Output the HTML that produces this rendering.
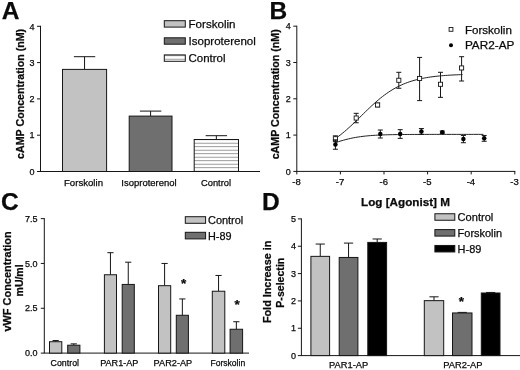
<!DOCTYPE html>
<html lang="en">
<head>
<meta charset="utf-8">
<title>Figure: cAMP, vWF and P-selectin responses</title>
<style>
html,body{margin:0;padding:0;background:#fff;}
svg{display:block;font-family:"Liberation Sans",Arial,Helvetica,sans-serif;filter:grayscale(1) blur(0.35px);}
text{fill:#0a0a0a;stroke:#0a0a0a;stroke-width:0.25px;}
</style>
</head>
<body>
<svg width="520" height="370" viewBox="0 0 520 370">
<defs>
<pattern id="hatch" width="4" height="3.5" patternUnits="userSpaceOnUse" patternTransform="translate(0 2.75)">
<rect width="4" height="3.5" fill="#fff"/>
<line x1="0" y1="0.5" x2="4" y2="0.5" stroke="#747474" stroke-width="0.8"/>
</pattern>
</defs>
<rect width="520" height="370" fill="#fff" stroke="none"/>
<text x="1.80" y="18.70" font-size="24.5" font-weight="bold" text-anchor="start">A</text>
<line x1="40.50" y1="25.80" x2="40.50" y2="171.50" stroke="#161616" stroke-width="1.0"/>
<line x1="40.00" y1="171.50" x2="260.00" y2="171.50" stroke="#161616" stroke-width="1.0"/>
<line x1="37.00" y1="171.50" x2="40.50" y2="171.50" stroke="#161616" stroke-width="1.0"/>
<text x="34.40" y="174.70" font-size="9" font-weight="normal" text-anchor="end">0</text>
<line x1="37.00" y1="135.20" x2="40.50" y2="135.20" stroke="#161616" stroke-width="1.0"/>
<text x="34.40" y="138.40" font-size="9" font-weight="normal" text-anchor="end">1</text>
<line x1="37.00" y1="98.90" x2="40.50" y2="98.90" stroke="#161616" stroke-width="1.0"/>
<text x="34.40" y="102.10" font-size="9" font-weight="normal" text-anchor="end">2</text>
<line x1="37.00" y1="62.60" x2="40.50" y2="62.60" stroke="#161616" stroke-width="1.0"/>
<text x="34.40" y="65.80" font-size="9" font-weight="normal" text-anchor="end">3</text>
<line x1="37.00" y1="26.30" x2="40.50" y2="26.30" stroke="#161616" stroke-width="1.0"/>
<text x="34.40" y="29.50" font-size="9" font-weight="normal" text-anchor="end">4</text>
<text x="23.60" y="93.90" font-size="10.5" font-weight="bold" text-anchor="middle" textLength="130" lengthAdjust="spacingAndGlyphs" transform="rotate(-90 23.60 93.90)">cAMP Concentration (nM)</text>
<line x1="84.55" y1="56.70" x2="84.55" y2="69.40" stroke="#161616" stroke-width="1.0"/>
<line x1="73.85" y1="56.70" x2="95.25" y2="56.70" stroke="#161616" stroke-width="1.0"/>
<rect x="62.50" y="69.40" width="44.10" height="102.10" fill="#c2c2c2" stroke="#161616" stroke-width="1.0"/>
<line x1="150.60" y1="111.10" x2="150.60" y2="116.10" stroke="#161616" stroke-width="1.0"/>
<line x1="139.90" y1="111.10" x2="161.30" y2="111.10" stroke="#161616" stroke-width="1.0"/>
<rect x="129.20" y="116.10" width="42.80" height="55.40" fill="#6f6f6f" stroke="#161616" stroke-width="1.0"/>
<line x1="216.35" y1="135.70" x2="216.35" y2="139.50" stroke="#161616" stroke-width="1.0"/>
<line x1="205.65" y1="135.70" x2="227.05" y2="135.70" stroke="#161616" stroke-width="1.0"/>
<rect x="194.20" y="139.50" width="44.30" height="32.00" fill="url(#hatch)" stroke="#161616" stroke-width="1.0"/>
<text x="83.50" y="185.70" font-size="9.5" font-weight="normal" text-anchor="middle" textLength="39" lengthAdjust="spacingAndGlyphs">Forskolin</text>
<text x="149.00" y="185.70" font-size="9.5" font-weight="normal" text-anchor="middle" textLength="55.3" lengthAdjust="spacingAndGlyphs">Isoproterenol</text>
<text x="216.00" y="185.70" font-size="9.5" font-weight="normal" text-anchor="middle" textLength="30" lengthAdjust="spacingAndGlyphs">Control</text>
<rect x="164.30" y="20.70" width="21.00" height="6.40" fill="#c2c2c2" stroke="#161616" stroke-width="1.0"/>
<text x="188.50" y="28.00" font-size="11.5" font-weight="normal" text-anchor="start" textLength="47" lengthAdjust="spacingAndGlyphs">Forskolin</text>
<rect x="164.30" y="37.80" width="21.00" height="6.40" fill="#6f6f6f" stroke="#161616" stroke-width="1.0"/>
<text x="188.50" y="45.10" font-size="11.5" font-weight="normal" text-anchor="start" textLength="67.3" lengthAdjust="spacingAndGlyphs">Isoproterenol</text>
<rect x="164.30" y="54.90" width="21.00" height="6.40" fill="url(#hatch)" stroke="#161616" stroke-width="1.0"/>
<text x="188.50" y="62.20" font-size="11.5" font-weight="normal" text-anchor="start" textLength="37" lengthAdjust="spacingAndGlyphs">Control</text>
<text x="269.60" y="18.70" font-size="24.5" font-weight="bold" text-anchor="start">B</text>
<line x1="296.80" y1="25.70" x2="296.80" y2="171.40" stroke="#161616" stroke-width="1.0"/>
<line x1="296.30" y1="171.40" x2="515.30" y2="171.40" stroke="#161616" stroke-width="1.0"/>
<line x1="293.30" y1="171.40" x2="296.80" y2="171.40" stroke="#161616" stroke-width="1.0"/>
<text x="290.70" y="174.60" font-size="9" font-weight="normal" text-anchor="end">0</text>
<line x1="293.30" y1="135.10" x2="296.80" y2="135.10" stroke="#161616" stroke-width="1.0"/>
<text x="290.70" y="138.30" font-size="9" font-weight="normal" text-anchor="end">1</text>
<line x1="293.30" y1="98.80" x2="296.80" y2="98.80" stroke="#161616" stroke-width="1.0"/>
<text x="290.70" y="102.00" font-size="9" font-weight="normal" text-anchor="end">2</text>
<line x1="293.30" y1="62.50" x2="296.80" y2="62.50" stroke="#161616" stroke-width="1.0"/>
<text x="290.70" y="65.70" font-size="9" font-weight="normal" text-anchor="end">3</text>
<line x1="293.30" y1="26.20" x2="296.80" y2="26.20" stroke="#161616" stroke-width="1.0"/>
<text x="290.70" y="29.40" font-size="9" font-weight="normal" text-anchor="end">4</text>
<line x1="296.80" y1="171.40" x2="296.80" y2="174.40" stroke="#161616" stroke-width="1.0"/>
<text x="296.50" y="185.10" font-size="9.5" font-weight="normal" text-anchor="middle">-8</text>
<line x1="340.40" y1="171.40" x2="340.40" y2="174.40" stroke="#161616" stroke-width="1.0"/>
<text x="340.10" y="185.10" font-size="9.5" font-weight="normal" text-anchor="middle">-7</text>
<line x1="384.00" y1="171.40" x2="384.00" y2="174.40" stroke="#161616" stroke-width="1.0"/>
<text x="383.70" y="185.10" font-size="9.5" font-weight="normal" text-anchor="middle">-6</text>
<line x1="427.60" y1="171.40" x2="427.60" y2="174.40" stroke="#161616" stroke-width="1.0"/>
<text x="427.30" y="185.10" font-size="9.5" font-weight="normal" text-anchor="middle">-5</text>
<line x1="471.20" y1="171.40" x2="471.20" y2="174.40" stroke="#161616" stroke-width="1.0"/>
<text x="470.90" y="185.10" font-size="9.5" font-weight="normal" text-anchor="middle">-4</text>
<line x1="514.80" y1="171.40" x2="514.80" y2="174.40" stroke="#161616" stroke-width="1.0"/>
<text x="514.50" y="185.10" font-size="9.5" font-weight="normal" text-anchor="middle">-3</text>
<text x="278.80" y="94.30" font-size="10.5" font-weight="bold" text-anchor="middle" textLength="130" lengthAdjust="spacingAndGlyphs" transform="rotate(-90 278.80 94.30)">cAMP Concentration (nM)</text>
<polyline points="336.04,138.12 338.15,136.60 340.25,135.00 342.36,133.32 344.47,131.57 346.58,129.76 348.68,127.89 350.79,125.96 352.90,123.99 355.01,121.98 357.11,119.94 359.22,117.88 361.33,115.81 363.44,113.74 365.54,111.67 367.65,109.63 369.76,107.62 371.86,105.65 373.97,103.72 376.08,101.85 378.19,100.04 380.29,98.29 382.40,96.62 384.51,95.02 386.62,93.49 388.72,92.04 390.83,90.68 392.94,89.39 395.05,88.18 397.15,87.04 399.26,85.98 401.37,84.99 403.47,84.07 405.58,83.22 407.69,82.43 409.80,81.70 411.90,81.02 414.01,80.40 416.12,79.83 418.23,79.30 420.33,78.82 422.44,78.38 424.55,77.98 426.66,77.61 428.76,77.27 430.87,76.96 432.98,76.68 435.08,76.42 437.19,76.19 439.30,75.97 441.41,75.78 443.51,75.60 445.62,75.44 447.73,75.30 449.84,75.16 451.94,75.04 454.05,74.93 456.16,74.83 458.27,74.74 460.37,74.66 462.48,74.59" fill="none" stroke="#161616" stroke-width="0.95"/>
<polyline points="336.04,142.41 338.50,141.64 340.95,140.91 343.41,140.21 345.86,139.55 348.32,138.94 350.78,138.38 353.23,137.87 355.69,137.42 358.15,137.01 360.60,136.65 363.06,136.34 365.51,136.06 367.97,135.82 370.43,135.61 372.88,135.43 375.34,135.27 377.79,135.14 380.25,135.02 382.71,134.93 385.16,134.84 387.62,134.77 390.07,134.71 392.53,134.66 394.99,134.62 397.44,134.58 399.90,134.55 402.36,134.52 404.81,134.50 407.27,134.48 409.72,134.46 412.18,134.45 414.64,134.44 417.09,134.43 419.55,134.42 422.00,134.41 424.46,134.41 426.92,134.40 429.37,134.40 431.83,134.39 434.29,134.39 436.74,134.39 439.20,134.39 441.65,134.38 444.11,134.38 446.57,134.38 449.02,134.38 451.48,134.38 453.93,134.38 456.39,134.38 458.85,134.38 461.30,134.38 463.76,134.38 466.22,134.38 468.67,134.38 471.13,134.38 473.58,134.38 476.04,134.37 478.50,134.37 480.95,134.37 483.41,134.37" fill="none" stroke="#161616" stroke-width="0.95"/>
<line x1="335.40" y1="135.83" x2="335.40" y2="141.63" stroke="#161616" stroke-width="1.0"/>
<line x1="332.90" y1="135.83" x2="337.90" y2="135.83" stroke="#161616" stroke-width="1.0"/>
<line x1="332.90" y1="141.63" x2="337.90" y2="141.63" stroke="#161616" stroke-width="1.0"/>
<rect x="333.35" y="136.68" width="4.10" height="4.10" fill="#fff" stroke="#161616" stroke-width="0.9"/>
<line x1="356.20" y1="113.32" x2="356.20" y2="122.76" stroke="#161616" stroke-width="1.0"/>
<line x1="353.70" y1="113.32" x2="358.70" y2="113.32" stroke="#161616" stroke-width="1.0"/>
<line x1="353.70" y1="122.76" x2="358.70" y2="122.76" stroke="#161616" stroke-width="1.0"/>
<rect x="354.15" y="115.99" width="4.10" height="4.10" fill="#fff" stroke="#161616" stroke-width="0.9"/>
<line x1="377.60" y1="103.16" x2="377.60" y2="106.79" stroke="#161616" stroke-width="1.0"/>
<line x1="375.10" y1="103.16" x2="380.10" y2="103.16" stroke="#161616" stroke-width="1.0"/>
<line x1="375.10" y1="106.79" x2="380.10" y2="106.79" stroke="#161616" stroke-width="1.0"/>
<rect x="375.55" y="102.92" width="4.10" height="4.10" fill="#fff" stroke="#161616" stroke-width="0.9"/>
<line x1="398.80" y1="72.30" x2="398.80" y2="88.27" stroke="#161616" stroke-width="1.0"/>
<line x1="396.30" y1="72.30" x2="401.30" y2="72.30" stroke="#161616" stroke-width="1.0"/>
<line x1="396.30" y1="88.27" x2="401.30" y2="88.27" stroke="#161616" stroke-width="1.0"/>
<rect x="396.75" y="78.24" width="4.10" height="4.10" fill="#fff" stroke="#161616" stroke-width="0.9"/>
<line x1="419.60" y1="57.42" x2="419.60" y2="100.62" stroke="#161616" stroke-width="1.0"/>
<line x1="417.10" y1="57.42" x2="422.10" y2="57.42" stroke="#161616" stroke-width="1.0"/>
<line x1="417.10" y1="100.62" x2="422.10" y2="100.62" stroke="#161616" stroke-width="1.0"/>
<rect x="417.55" y="76.42" width="4.10" height="4.10" fill="#fff" stroke="#161616" stroke-width="0.9"/>
<line x1="440.50" y1="72.30" x2="440.50" y2="97.35" stroke="#161616" stroke-width="1.0"/>
<line x1="438.00" y1="72.30" x2="443.00" y2="72.30" stroke="#161616" stroke-width="1.0"/>
<line x1="438.00" y1="97.35" x2="443.00" y2="97.35" stroke="#161616" stroke-width="1.0"/>
<rect x="438.45" y="82.23" width="4.10" height="4.10" fill="#fff" stroke="#161616" stroke-width="0.9"/>
<line x1="461.60" y1="56.69" x2="461.60" y2="81.01" stroke="#161616" stroke-width="1.0"/>
<line x1="459.10" y1="56.69" x2="464.10" y2="56.69" stroke="#161616" stroke-width="1.0"/>
<line x1="459.10" y1="81.01" x2="464.10" y2="81.01" stroke="#161616" stroke-width="1.0"/>
<rect x="459.55" y="65.90" width="4.10" height="4.10" fill="#fff" stroke="#161616" stroke-width="0.9"/>
<line x1="335.40" y1="139.82" x2="335.40" y2="149.26" stroke="#161616" stroke-width="1.0"/>
<line x1="332.90" y1="139.82" x2="337.90" y2="139.82" stroke="#161616" stroke-width="1.0"/>
<line x1="332.90" y1="149.26" x2="337.90" y2="149.26" stroke="#161616" stroke-width="1.0"/>
<circle cx="335.40" cy="144.54" r="2.25" fill="#000"/>
<line x1="380.30" y1="130.02" x2="380.30" y2="138.00" stroke="#161616" stroke-width="1.0"/>
<line x1="377.80" y1="130.02" x2="382.80" y2="130.02" stroke="#161616" stroke-width="1.0"/>
<line x1="377.80" y1="138.00" x2="382.80" y2="138.00" stroke="#161616" stroke-width="1.0"/>
<circle cx="380.30" cy="134.01" r="2.25" fill="#000"/>
<line x1="400.20" y1="129.66" x2="400.20" y2="138.37" stroke="#161616" stroke-width="1.0"/>
<line x1="397.70" y1="129.66" x2="402.70" y2="129.66" stroke="#161616" stroke-width="1.0"/>
<line x1="397.70" y1="138.37" x2="402.70" y2="138.37" stroke="#161616" stroke-width="1.0"/>
<circle cx="400.20" cy="134.01" r="2.25" fill="#000"/>
<line x1="421.40" y1="128.57" x2="421.40" y2="134.37" stroke="#161616" stroke-width="1.0"/>
<line x1="418.90" y1="128.57" x2="423.90" y2="128.57" stroke="#161616" stroke-width="1.0"/>
<line x1="418.90" y1="134.37" x2="423.90" y2="134.37" stroke="#161616" stroke-width="1.0"/>
<circle cx="421.40" cy="131.47" r="2.25" fill="#000"/>
<line x1="442.30" y1="131.11" x2="442.30" y2="133.28" stroke="#161616" stroke-width="1.0"/>
<line x1="439.80" y1="131.11" x2="444.80" y2="131.11" stroke="#161616" stroke-width="1.0"/>
<line x1="439.80" y1="133.28" x2="444.80" y2="133.28" stroke="#161616" stroke-width="1.0"/>
<circle cx="442.30" cy="132.20" r="2.25" fill="#000"/>
<line x1="463.40" y1="135.46" x2="463.40" y2="142.72" stroke="#161616" stroke-width="1.0"/>
<line x1="460.90" y1="135.46" x2="465.90" y2="135.46" stroke="#161616" stroke-width="1.0"/>
<line x1="460.90" y1="142.72" x2="465.90" y2="142.72" stroke="#161616" stroke-width="1.0"/>
<circle cx="463.40" cy="139.09" r="2.25" fill="#000"/>
<line x1="484.20" y1="135.46" x2="484.20" y2="141.27" stroke="#161616" stroke-width="1.0"/>
<line x1="481.70" y1="135.46" x2="486.70" y2="135.46" stroke="#161616" stroke-width="1.0"/>
<line x1="481.70" y1="141.27" x2="486.70" y2="141.27" stroke="#161616" stroke-width="1.0"/>
<circle cx="484.20" cy="138.37" r="2.25" fill="#000"/>
<rect x="449.10" y="27.50" width="3.80" height="3.80" fill="#fff" stroke="#161616" stroke-width="0.9"/>
<circle cx="451" cy="45.2" r="2.0" fill="#000"/>
<text x="464.90" y="33.50" font-size="11.5" font-weight="normal" text-anchor="start" textLength="47" lengthAdjust="spacingAndGlyphs">Forskolin</text>
<text x="464.90" y="49.00" font-size="11.5" font-weight="normal" text-anchor="start" textLength="49.5" lengthAdjust="spacingAndGlyphs">PAR2-AP</text>
<text x="405.50" y="206.10" font-size="11.5" font-weight="bold" text-anchor="middle" textLength="89" lengthAdjust="spacingAndGlyphs">Log [Agonist] M</text>
<text x="1.00" y="210.30" font-size="24.5" font-weight="bold" text-anchor="start">C</text>
<line x1="44.30" y1="218.13" x2="44.30" y2="353.10" stroke="#161616" stroke-width="1.0"/>
<line x1="43.80" y1="353.10" x2="249.00" y2="353.10" stroke="#161616" stroke-width="1.0"/>
<line x1="40.80" y1="353.10" x2="44.30" y2="353.10" stroke="#161616" stroke-width="1.0"/>
<text x="37.50" y="356.30" font-size="9" font-weight="normal" text-anchor="end">0.0</text>
<line x1="40.80" y1="308.28" x2="44.30" y2="308.28" stroke="#161616" stroke-width="1.0"/>
<text x="37.50" y="311.48" font-size="9" font-weight="normal" text-anchor="end">2.5</text>
<line x1="40.80" y1="263.45" x2="44.30" y2="263.45" stroke="#161616" stroke-width="1.0"/>
<text x="37.50" y="266.65" font-size="9" font-weight="normal" text-anchor="end">5.0</text>
<line x1="40.80" y1="218.63" x2="44.30" y2="218.63" stroke="#161616" stroke-width="1.0"/>
<text x="37.50" y="221.83" font-size="9" font-weight="normal" text-anchor="end">7.5</text>
<text x="11.10" y="281.40" font-size="11" font-weight="bold" text-anchor="middle" textLength="100.3" lengthAdjust="spacingAndGlyphs" transform="rotate(-90 11.10 281.40)">vWF Concentration</text>
<text x="22.90" y="280.40" font-size="10.5" font-weight="bold" text-anchor="middle" textLength="32" lengthAdjust="spacingAndGlyphs" transform="rotate(-90 22.90 280.40)">mU/ml</text>
<line x1="55.65" y1="340.55" x2="55.65" y2="341.71" stroke="#161616" stroke-width="1.0"/>
<line x1="52.55" y1="340.55" x2="58.75" y2="340.55" stroke="#161616" stroke-width="1.0"/>
<rect x="49.50" y="341.71" width="12.30" height="11.39" fill="#c2c2c2" stroke="#161616" stroke-width="1.0"/>
<line x1="73.80" y1="343.87" x2="73.80" y2="345.21" stroke="#161616" stroke-width="1.0"/>
<line x1="70.70" y1="343.87" x2="76.90" y2="343.87" stroke="#161616" stroke-width="1.0"/>
<rect x="67.70" y="345.21" width="12.20" height="7.89" fill="#6f6f6f" stroke="#161616" stroke-width="1.0"/>
<line x1="110.45" y1="252.69" x2="110.45" y2="274.75" stroke="#161616" stroke-width="1.0"/>
<line x1="107.35" y1="252.69" x2="113.55" y2="252.69" stroke="#161616" stroke-width="1.0"/>
<rect x="104.40" y="274.75" width="12.10" height="78.35" fill="#c2c2c2" stroke="#161616" stroke-width="1.0"/>
<line x1="128.25" y1="262.19" x2="128.25" y2="284.43" stroke="#161616" stroke-width="1.0"/>
<line x1="125.15" y1="262.19" x2="131.35" y2="262.19" stroke="#161616" stroke-width="1.0"/>
<rect x="122.20" y="284.43" width="12.10" height="68.67" fill="#6f6f6f" stroke="#161616" stroke-width="1.0"/>
<line x1="164.60" y1="263.45" x2="164.60" y2="285.68" stroke="#161616" stroke-width="1.0"/>
<line x1="161.50" y1="263.45" x2="167.70" y2="263.45" stroke="#161616" stroke-width="1.0"/>
<rect x="158.50" y="285.68" width="12.20" height="67.42" fill="#c2c2c2" stroke="#161616" stroke-width="1.0"/>
<line x1="182.35" y1="298.95" x2="182.35" y2="315.27" stroke="#161616" stroke-width="1.0"/>
<line x1="179.25" y1="298.95" x2="185.45" y2="298.95" stroke="#161616" stroke-width="1.0"/>
<rect x="176.30" y="315.27" width="12.10" height="37.83" fill="#6f6f6f" stroke="#161616" stroke-width="1.0"/>
<line x1="218.55" y1="275.46" x2="218.55" y2="291.24" stroke="#161616" stroke-width="1.0"/>
<line x1="215.45" y1="275.46" x2="221.65" y2="275.46" stroke="#161616" stroke-width="1.0"/>
<rect x="212.30" y="291.24" width="12.50" height="61.86" fill="#c2c2c2" stroke="#161616" stroke-width="1.0"/>
<line x1="236.35" y1="321.72" x2="236.35" y2="329.25" stroke="#161616" stroke-width="1.0"/>
<line x1="233.25" y1="321.72" x2="239.45" y2="321.72" stroke="#161616" stroke-width="1.0"/>
<rect x="230.10" y="329.25" width="12.50" height="23.85" fill="#6f6f6f" stroke="#161616" stroke-width="1.0"/>
<text x="64.80" y="366.00" font-size="9" font-weight="normal" text-anchor="middle" textLength="28.4" lengthAdjust="spacingAndGlyphs">Control</text>
<text x="119.30" y="366.00" font-size="9" font-weight="normal" text-anchor="middle" textLength="38.3" lengthAdjust="spacingAndGlyphs">PAR1-AP</text>
<text x="172.90" y="366.00" font-size="9" font-weight="normal" text-anchor="middle" textLength="38.6" lengthAdjust="spacingAndGlyphs">PAR2-AP</text>
<text x="227.80" y="366.00" font-size="9" font-weight="normal" text-anchor="middle" textLength="34.8" lengthAdjust="spacingAndGlyphs">Forskolin</text>
<text x="183.60" y="287.80" font-size="13.5" font-weight="bold" text-anchor="middle">*</text>
<text x="237.20" y="309.40" font-size="13.5" font-weight="bold" text-anchor="middle">*</text>
<rect x="185.30" y="216.70" width="20.30" height="6.60" fill="#c2c2c2" stroke="#161616" stroke-width="1.0"/>
<text x="208.00" y="223.90" font-size="11" font-weight="normal" text-anchor="start" textLength="35.3" lengthAdjust="spacingAndGlyphs">Control</text>
<rect x="185.30" y="232.30" width="20.30" height="6.60" fill="#6f6f6f" stroke="#161616" stroke-width="1.0"/>
<text x="208.00" y="239.50" font-size="11" font-weight="normal" text-anchor="start" textLength="23.5" lengthAdjust="spacingAndGlyphs">H-89</text>
<text x="262.00" y="210.30" font-size="24.5" font-weight="bold" text-anchor="start">D</text>
<line x1="301.40" y1="218.40" x2="301.40" y2="355.60" stroke="#161616" stroke-width="1.0"/>
<line x1="300.90" y1="355.60" x2="520.00" y2="355.60" stroke="#161616" stroke-width="1.0"/>
<line x1="297.90" y1="355.60" x2="301.40" y2="355.60" stroke="#161616" stroke-width="1.0"/>
<text x="296.00" y="358.80" font-size="9" font-weight="normal" text-anchor="end">0</text>
<line x1="297.90" y1="328.26" x2="301.40" y2="328.26" stroke="#161616" stroke-width="1.0"/>
<text x="296.00" y="331.46" font-size="9" font-weight="normal" text-anchor="end">1</text>
<line x1="297.90" y1="300.92" x2="301.40" y2="300.92" stroke="#161616" stroke-width="1.0"/>
<text x="296.00" y="304.12" font-size="9" font-weight="normal" text-anchor="end">2</text>
<line x1="297.90" y1="273.58" x2="301.40" y2="273.58" stroke="#161616" stroke-width="1.0"/>
<text x="296.00" y="276.78" font-size="9" font-weight="normal" text-anchor="end">3</text>
<line x1="297.90" y1="246.24" x2="301.40" y2="246.24" stroke="#161616" stroke-width="1.0"/>
<text x="296.00" y="249.44" font-size="9" font-weight="normal" text-anchor="end">4</text>
<line x1="297.90" y1="218.90" x2="301.40" y2="218.90" stroke="#161616" stroke-width="1.0"/>
<text x="296.00" y="222.10" font-size="9" font-weight="normal" text-anchor="end">5</text>
<text x="271.00" y="281.90" font-size="11" font-weight="bold" text-anchor="middle" textLength="82.4" lengthAdjust="spacingAndGlyphs" transform="rotate(-90 271.00 281.90)">Fold Increase in</text>
<text x="284.00" y="282.70" font-size="11" font-weight="bold" text-anchor="middle" textLength="50" lengthAdjust="spacingAndGlyphs" transform="rotate(-90 284.00 282.70)">P-selectin</text>
<line x1="320.25" y1="244.05" x2="320.25" y2="256.36" stroke="#161616" stroke-width="1.0"/>
<line x1="315.65" y1="244.05" x2="324.85" y2="244.05" stroke="#161616" stroke-width="1.0"/>
<rect x="310.90" y="256.36" width="18.70" height="99.24" fill="#c2c2c2" stroke="#161616" stroke-width="1.0"/>
<line x1="348.55" y1="243.10" x2="348.55" y2="257.45" stroke="#161616" stroke-width="1.0"/>
<line x1="343.95" y1="243.10" x2="353.15" y2="243.10" stroke="#161616" stroke-width="1.0"/>
<rect x="339.20" y="257.45" width="18.70" height="98.15" fill="#6f6f6f" stroke="#161616" stroke-width="1.0"/>
<line x1="377.20" y1="238.99" x2="377.20" y2="242.41" stroke="#161616" stroke-width="1.0"/>
<line x1="372.60" y1="238.99" x2="381.80" y2="238.99" stroke="#161616" stroke-width="1.0"/>
<rect x="367.80" y="242.41" width="18.80" height="113.19" fill="#000" stroke="#161616" stroke-width="1.0"/>
<line x1="434.00" y1="296.82" x2="434.00" y2="300.65" stroke="#161616" stroke-width="1.0"/>
<line x1="429.40" y1="296.82" x2="438.60" y2="296.82" stroke="#161616" stroke-width="1.0"/>
<rect x="424.30" y="300.65" width="19.40" height="54.95" fill="#c2c2c2" stroke="#161616" stroke-width="1.0"/>
<line x1="462.25" y1="312.40" x2="462.25" y2="312.95" stroke="#161616" stroke-width="1.0"/>
<line x1="457.65" y1="312.40" x2="466.85" y2="312.40" stroke="#161616" stroke-width="1.0"/>
<rect x="452.50" y="312.95" width="19.50" height="42.65" fill="#6f6f6f" stroke="#161616" stroke-width="1.0"/>
<line x1="490.65" y1="292.44" x2="490.65" y2="292.99" stroke="#161616" stroke-width="1.0"/>
<line x1="486.05" y1="292.44" x2="495.25" y2="292.44" stroke="#161616" stroke-width="1.0"/>
<rect x="481.30" y="292.99" width="18.70" height="62.61" fill="#000" stroke="#161616" stroke-width="1.0"/>
<text x="348.60" y="368.20" font-size="9.5" font-weight="normal" text-anchor="middle" textLength="39.3" lengthAdjust="spacingAndGlyphs">PAR1-AP</text>
<text x="462.90" y="368.20" font-size="9.5" font-weight="normal" text-anchor="middle" textLength="39.3" lengthAdjust="spacingAndGlyphs">PAR2-AP</text>
<text x="461.40" y="305.60" font-size="13.5" font-weight="bold" text-anchor="middle">*</text>
<rect x="434.90" y="213.75" width="19.90" height="6.50" fill="#c2c2c2" stroke="#161616" stroke-width="1.0"/>
<text x="457.60" y="220.90" font-size="11" font-weight="normal" text-anchor="start" textLength="35.7" lengthAdjust="spacingAndGlyphs">Control</text>
<rect x="434.90" y="229.60" width="19.90" height="6.50" fill="#6f6f6f" stroke="#161616" stroke-width="1.0"/>
<text x="457.60" y="236.75" font-size="11" font-weight="normal" text-anchor="start" textLength="44.5" lengthAdjust="spacingAndGlyphs">Forskolin</text>
<rect x="434.90" y="245.45" width="19.90" height="6.50" fill="#000" stroke="#161616" stroke-width="1.0"/>
<text x="457.60" y="252.60" font-size="11" font-weight="normal" text-anchor="start" textLength="23.7" lengthAdjust="spacingAndGlyphs">H-89</text>
</svg>
</body>
</html>
